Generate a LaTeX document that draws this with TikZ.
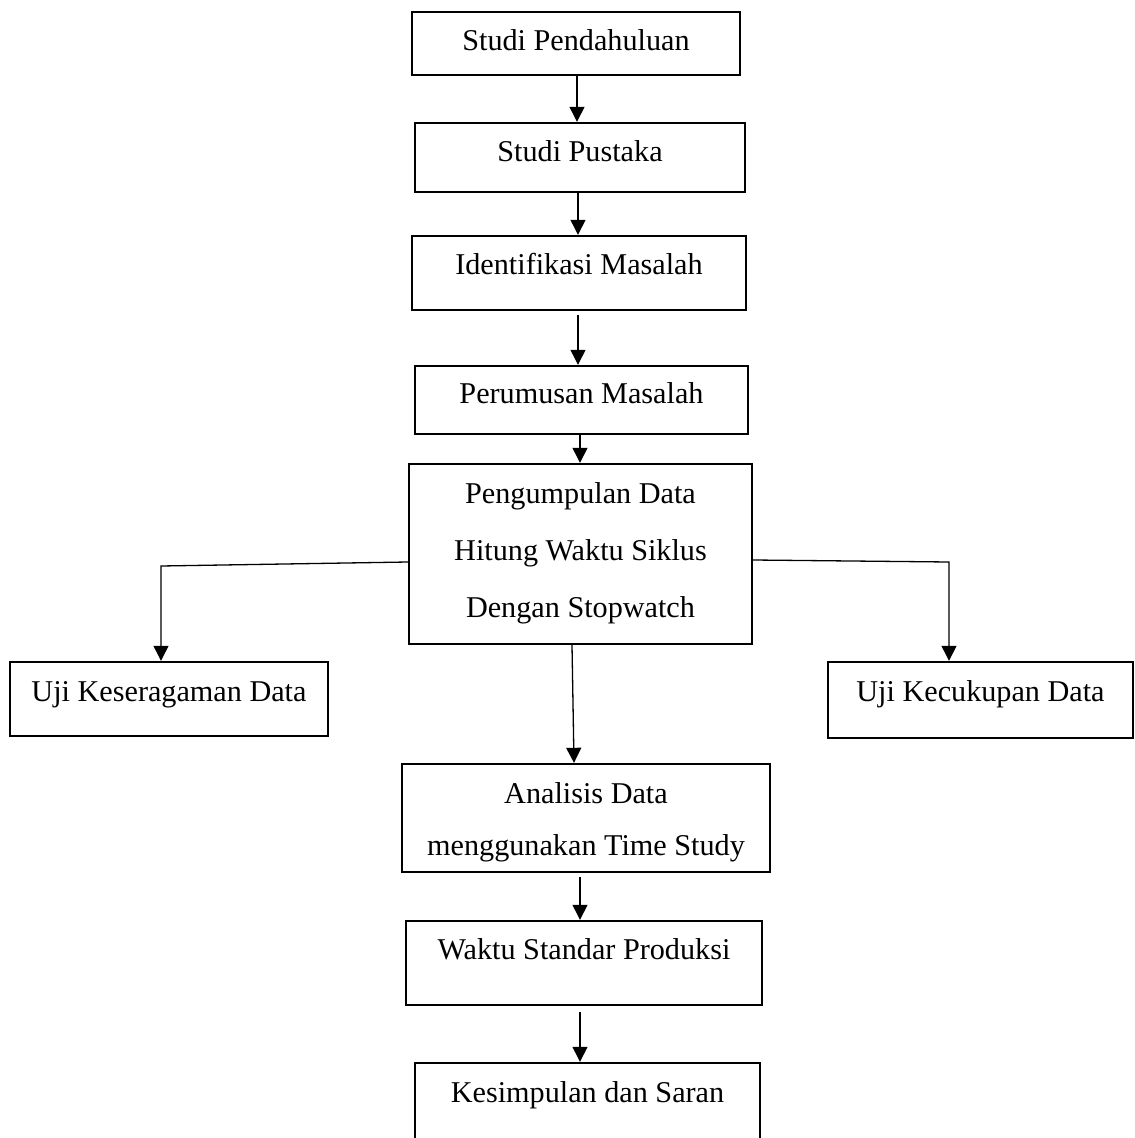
\documentclass[tikz,border=0pt]{standalone}
\usepackage{fontspec}
\setmainfont{Liberation Serif}
\usetikzlibrary{arrows.meta}
\begin{document}
\begin{tikzpicture}[x=0.5pt,y=-0.5pt,
  box/.style={draw, line width=1.2pt, inner sep=0pt, rectangle},
  txt/.style={anchor=base, inner sep=0pt, font=\fontsize{15.1}{18}\selectfont},
  conn/.style={line width=0.65pt, -{Triangle[length=7.5pt,width=7.5pt]}}]
\useasboundingbox (0,0) rectangle (1134,1138);
% boxes
\node[box, minimum width=164pt, minimum height=31.5pt] (b1) at (576,43.5) {};
\node[box, minimum width=165pt, minimum height=34.5pt] (b2) at (580,157.5) {};
\node[box, minimum width=167pt, minimum height=37pt] (b3) at (579,273) {};
\node[box, minimum width=166.5pt, minimum height=34pt] (b4) at (581.5,400) {};
\node[box, minimum width=171.5pt, minimum height=90pt] (b5) at (580.5,554) {};
\node[box, minimum width=159pt, minimum height=37pt] (b6) at (169,699) {};
\node[box, minimum width=152.5pt, minimum height=38pt] (b7) at (980.5,700) {};
\node[box, minimum width=184pt, minimum height=54pt] (b8) at (586,818) {};
\node[box, minimum width=178pt, minimum height=42pt] (b9) at (584,963) {};
\node[box, minimum width=172.5pt, minimum height=43.5pt] (b10) at (587.5,1106.5) {};
% texts
\node[txt] (t1) at (576,51) {Studi Pendahuluan};
\node[txt] (t2) at (580,162) {Studi Pustaka};
\node[txt] (t3) at (579,275) {Identifikasi Masalah};
\node[txt] (t4) at (581.5,403) {Perumusan Masalah};
\node[txt] (t5a) at (580.5,503) {Pengumpulan Data};
\node[txt] (t5b) at (580.5,560) {Hitung Waktu Siklus};
\node[txt] (t5c) at (580.5,617) {Dengan Stopwatch};
\node[txt] (t6) at (169,701) {Uji Keseragaman Data};
\node[txt] (t7) at (980.5,701) {Uji Kecukupan Data};
\node[txt] (t8a) at (586,803) {Analisis Data};
\node[txt] (t8b) at (586,855) {menggunakan Time Study};
\node[txt] (t9) at (584,959) {Waktu Standar Produksi};
\node[txt] (t10) at (587.5,1102) {Kesimpulan dan Saran};
% corner coordinates
\coordinate (lc) at (161,566);
\coordinate (rc) at (949,562);
% connectors
\draw[conn] ([xshift=0.5pt]b1.south) -- ([xshift=-1.5pt]b2.north);
\draw[conn] ([xshift=-1pt]b2.south) -- ([xshift=-0.5pt]b3.north);
\draw[conn] ([xshift=-0.5pt,yshift=-2pt]b3.south) -- ([xshift=-1.75pt]b4.north);
\draw[conn] ([xshift=-0.75pt]b4.south) -- ([xshift=-0.25pt]b5.north);
\draw[conn] ([yshift=-4pt]b5.west) -- (lc) -- (lc |- b6.north);
\draw[conn] ([yshift=-3pt]b5.east) -- (rc) -- (rc |- b7.north);
\draw[conn] ([xshift=-4.25pt]b5.south) -- ([xshift=-6pt]b8.north);
\draw[conn] ([xshift=-3pt,yshift=-2pt]b8.south) -- ([xshift=-2pt]b9.north);
\draw[conn] ([xshift=-2pt,yshift=-3pt]b9.south) -- ([xshift=-3.75pt]b10.north);
\end{tikzpicture}
\end{document}
